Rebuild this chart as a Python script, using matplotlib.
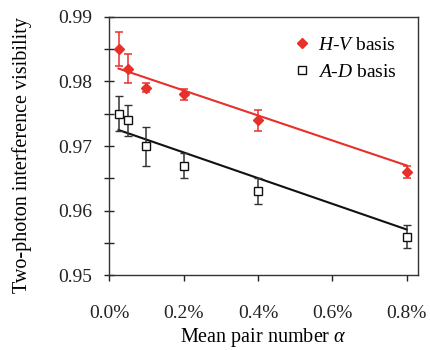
import numpy as np
import matplotlib
matplotlib.use('Agg')
import matplotlib.pyplot as plt
from matplotlib.ticker import MultipleLocator, FuncFormatter

plt.rcParams['font.family'] = 'Liberation Serif'
plt.rcParams['mathtext.fontset'] = 'custom'
plt.rcParams['mathtext.rm'] = 'Liberation Serif'
plt.rcParams['mathtext.it'] = 'Liberation Serif:italic'

# Datos (x en %)
par_medio = [0.025, 0.05, 0.1, 0.2, 0.4, 0.8]
vis_hv = [0.985, 0.982, 0.979, 0.978, 0.974, 0.966]
err_hv = [0.0026, 0.0023, 0.0007, 0.0008, 0.0016, 0.0010]
vis_ad = [0.975, 0.974, 0.970, 0.967, 0.963, 0.956]
err_ad = [0.0027, 0.0024, 0.0030, 0.0020, 0.0020, 0.0018]
# Rectas de ajuste (extremos)
ajuste_x = [0.025, 0.8]
ajuste_hv = [0.9820, 0.9670]
ajuste_ad = [0.9725, 0.9571]

rojo = '#e8302a'
negro = '#111111'

fig = plt.figure(figsize=(4.3, 3.5), dpi=100)
ax = fig.add_axes([0.254, 0.213, 0.718, 0.739])

ax.plot(ajuste_x, ajuste_hv, color=rojo, lw=1.5, zorder=2)
ax.plot(ajuste_x, ajuste_ad, color=negro, lw=1.5, zorder=2)

ax.errorbar(par_medio, vis_hv, yerr=err_hv, fmt='D', color=rojo, ms=5.5,
            ecolor=rojo, elinewidth=1.1, capsize=2.8, capthick=1.1, zorder=3,
            label='$H$-$V$ basis')
ax.errorbar(par_medio, vis_ad, yerr=err_ad, fmt='s', mfc='white', mec=negro,
            mew=1.0, ms=6, ecolor='#333333', elinewidth=1.1, capsize=2.8,
            capthick=1.1, zorder=3, label='$A$-$D$ basis')

ax.set_xlim(0, 0.83)
ax.set_ylim(0.95, 0.99)
ax.xaxis.set_major_locator(MultipleLocator(0.2))
ax.xaxis.set_major_formatter(FuncFormatter(lambda v, p: f'{v:.1f}%'))
ax.yaxis.set_major_locator(MultipleLocator(0.01))
ax.yaxis.set_minor_locator(MultipleLocator(0.005))
ax.yaxis.set_major_formatter(FuncFormatter(lambda v, p: f'{v:.2f}'))

ax.tick_params(axis='x', direction='out', length=4, width=1, labelsize=14,
               pad=17, colors='#222222')
ax.tick_params(axis='y', which='both', direction='inout', length=7, width=1,
               labelsize=14, pad=9, colors='#222222')
for s in ax.spines.values():
    s.set_color('#333333')
    s.set_linewidth(1)

ax.set_xlabel(r'Mean pair number $\alpha$', fontsize=14.5, va='bottom')
ax.xaxis.set_label_coords(0.5, -0.286)
ax.set_ylabel('Two-photon interference visibility', fontsize=14.5)
ax.yaxis.set_label_coords(-0.25, 0.465)

hs, ls = ax.get_legend_handles_labels()
hs = [h[0] for h in hs]
leg = ax.legend(hs, ls, loc='upper left', frameon=False, fontsize=14,
                handlelength=0.6, handletextpad=0.55, labelspacing=0.5,
                borderpad=0, borderaxespad=0, bbox_to_anchor=(0.604, 0.925))

fig.savefig('out.png', dpi=100)
